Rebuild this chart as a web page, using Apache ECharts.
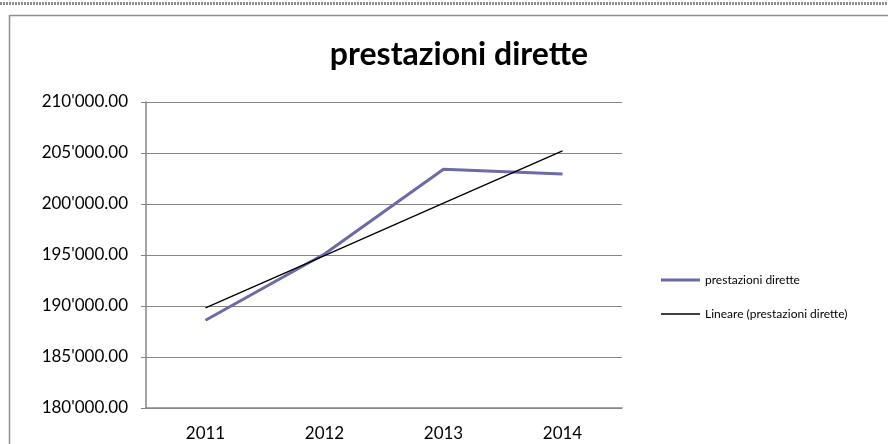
<!DOCTYPE html>
<html lang="it">
<head>
    <meta charset="utf-8">
    <title>prestazioni dirette</title>
    <style>
        html, body { margin: 0; padding: 0; background: #fff; }
        #main { width: 888px; height: 444px; }
    </style>
</head>
<body>
<div id="main"></div>
<script src="https://cdn.jsdelivr.net/npm/echarts@6/dist/echarts.min.js"></script>
<script>
    // dati
    var anni = ['2011', '2012', '2013', '2014'];
    var prestazioni = [188600, 195100, 203400, 202950];
    var yTicks = [180000, 185000, 190000, 195000, 200000, 205000, 210000];

    // linea di tendenza lineare (minimi quadrati, come fa Excel)
    function tendenza(vals) {
        var n = vals.length, sx = 0, sy = 0, sxy = 0, sxx = 0;
        for (var i = 0; i < n; i++) {
            sx += i; sy += vals[i]; sxy += i * vals[i]; sxx += i * i;
        }
        var b = (n * sxy - sx * sy) / (n * sxx - sx * sx);
        var a = (sy - b * sx) / n;
        var out = [];
        for (var j = 0; j < n; j++) out.push(a + b * j);
        return out;
    }
    var lineare = tendenza(prestazioni);

    function fmt(v) {
        var s = v.toFixed(2).split('.');
        return s[0].replace(/\B(?=(\d{3})+(?!\d))/g, "'") + '.' + s[1];
    }

    var font = 'Lato, "Open Sans", sans-serif';
    var grigio = '#868686';

    var myChart = echarts.init(document.getElementById('main'));
    var option = {
        animation: false,
        title: {
            text: 'prestazioni dirette',
            left: 454,
            top: 34,
            textAlign: 'center',
            textStyle: { fontFamily: font, fontSize: 32, fontWeight: 'bold', color: '#000' }
        },
        legend: [{
            orient: 'vertical',
            left: 656,
            top: 269,
            icon: 'rect',
            itemWidth: 39,
            itemHeight: 3,
            data: ['prestazioni dirette'],
            textStyle: { fontFamily: font, fontSize: 12, color: '#000' }
        }, {
            orient: 'vertical',
            left: 656,
            top: 303,
            icon: 'rect',
            itemWidth: 39,
            itemHeight: 1.5,
            data: ['Lineare (prestazioni dirette)'],
            textStyle: { fontFamily: font, fontSize: 12, color: '#000' }
        }],
        grid: { left: 146, right: 266, top: 102, bottom: 36 },
        xAxis: {
            type: 'category',
            data: anni,
            axisLine: { lineStyle: { color: grigio, width: 1.5 } },
            axisTick: { length: 5, lineStyle: { color: grigio } },
            axisLabel: { color: '#000', fontFamily: font, fontSize: 17, margin: 17 }
        },
        yAxis: {
            type: 'value',
            min: yTicks[0],
            max: yTicks[yTicks.length - 1],
            interval: 5000,
            axisLine: { show: true, lineStyle: { color: grigio, width: 1.5 } },
            axisTick: { show: true, length: 5, lineStyle: { color: grigio } },
            splitLine: { lineStyle: { color: grigio, width: 1 } },
            axisLabel: { color: '#000', fontFamily: font, fontSize: 17, margin: 18, formatter: fmt }
        },
        series: [{
            name: 'prestazioni dirette',
            type: 'line',
            data: prestazioni,
            symbol: 'none',
            color: '#6B6BA6',
            lineStyle: { width: 3, color: '#6B6BA6' }
        }, {
            name: 'Lineare (prestazioni dirette)',
            type: 'line',
            data: lineare,
            symbol: 'none',
            color: '#000',
            lineStyle: { width: 1.3, color: '#000' }
        }],
        graphic: [{
            type: 'rect',
            shape: { x: 9.5, y: 15.5, width: 900, height: 500 },
            style: { fill: null, stroke: '#8f8f8f', lineWidth: 1.5 },
            silent: true
        }, {
            type: 'line',
            shape: { x1: 0, y1: 3.5, x2: 888, y2: 3.5 },
            style: { stroke: '#8c8c8c', lineWidth: 3, lineDash: [2, 1] },
            silent: true
        }]
    };
    myChart.setOption(option);
</script>
</body>
</html>
